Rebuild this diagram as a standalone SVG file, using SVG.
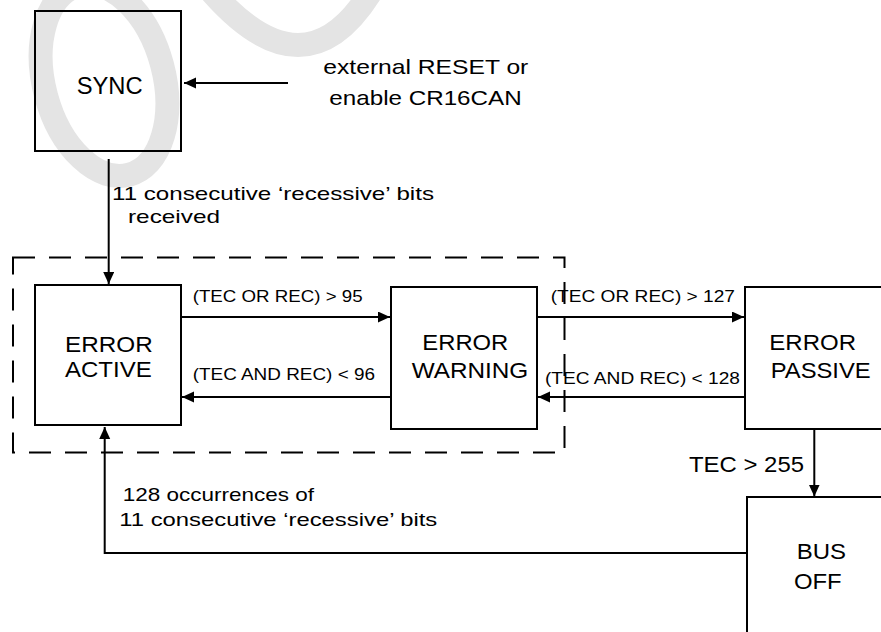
<svg xmlns="http://www.w3.org/2000/svg" width="881" height="632" viewBox="0 0 881 632">
<style>
.box{fill:none;stroke:#000;stroke-width:2}
.ln{fill:none;stroke:#000;stroke-width:2}
.arr{marker-end:url(#ah)}
.t{font-family:"Liberation Sans",Arial,Helvetica,sans-serif;fill:#000}
.n{font-size:22px}
.e{font-size:16.5px}
.l{font-size:19px}
.wm{fill:none;stroke:#e4e4e4;stroke-width:24}
</style>
<defs>
<marker id="ah" markerUnits="userSpaceOnUse" markerWidth="13" markerHeight="12" refX="12" refY="5.5" orient="auto">
<path d="M0,0 L12,5.5 L0,11 Z" fill="#000"/>
</marker>
</defs>
<rect width="881" height="632" fill="#fff"/>
<g id="watermark">
<ellipse class="wm" cx="104" cy="80" rx="60" ry="98" transform="rotate(-15 104 80)"/>
<path class="wm" d="M210,-10 Q305,100 372,-10"/>
</g>
<g id="frame">
<rect x="13" y="257.5" width="551.5" height="195" fill="none" stroke="#000" stroke-width="2" stroke-dasharray="22 14"/>
</g>
<g id="sync">
<rect class="box" x="35" y="11" width="146" height="140"/>
<text class="t n" x="76.7" y="94" textLength="66" lengthAdjust="spacingAndGlyphs" style="font-size:23px">SYNC</text>
</g>
<g id="error-active">
<rect class="box" x="35" y="285" width="146" height="140"/>
<text class="t n" x="65" y="351.7" textLength="87.7" lengthAdjust="spacingAndGlyphs">ERROR</text>
<text class="t n" x="65" y="377" textLength="86.7" lengthAdjust="spacingAndGlyphs">ACTIVE</text>
</g>
<g id="error-warning">
<rect class="box" x="391" y="287" width="146" height="142"/>
<text class="t n" x="422.3" y="350" textLength="86" lengthAdjust="spacingAndGlyphs">ERROR</text>
<text class="t n" x="411.7" y="377.7" textLength="116.6" lengthAdjust="spacingAndGlyphs">WARNING</text>
</g>
<g id="error-passive">
<rect class="box" x="745" y="287" width="150" height="142"/>
<text class="t n" x="769.3" y="350" textLength="86.7" lengthAdjust="spacingAndGlyphs">ERROR</text>
<text class="t n" x="770.7" y="377.7" textLength="100" lengthAdjust="spacingAndGlyphs">PASSIVE</text>
</g>
<g id="bus-off">
<rect class="box" x="747" y="497" width="150" height="150"/>
<text class="t n" x="796.7" y="559.3" textLength="49.3" lengthAdjust="spacingAndGlyphs">BUS</text>
<text class="t n" x="794" y="589.3" textLength="47.7" lengthAdjust="spacingAndGlyphs">OFF</text>
</g>
<g id="connectors">
<line class="ln arr" x1="288" y1="83" x2="184" y2="83"/>
<line class="ln arr" x1="108.7" y1="159" x2="108.7" y2="284"/>
<line class="ln arr" x1="181" y1="317" x2="390" y2="317"/>
<line class="ln arr" x1="392" y1="397" x2="182" y2="397"/>
<line class="ln arr" x1="537" y1="317" x2="744" y2="317"/>
<line class="ln arr" x1="746" y1="397" x2="538" y2="397"/>
<line class="ln arr" x1="814.3" y1="429" x2="814.3" y2="496.5"/>
<polyline class="ln arr" points="747,553 104.7,553 104.7,427"/>
</g>
<g id="labels">
<text class="t" x="323.3" y="74" textLength="205" lengthAdjust="spacingAndGlyphs" style="font-size:21px">external RESET or</text>
<text class="t" x="329.3" y="105.3" textLength="192.4" lengthAdjust="spacingAndGlyphs" style="font-size:21px">enable CR16CAN</text>
<text class="t l" x="112" y="200" textLength="322" lengthAdjust="spacingAndGlyphs">11 consecutive ‘recessive’ bits</text>
<text class="t l" x="128" y="222.7" textLength="92" lengthAdjust="spacingAndGlyphs">received</text>
<text class="t e" x="192.7" y="302" textLength="170" lengthAdjust="spacingAndGlyphs">(TEC OR REC) &gt; 95</text>
<text class="t e" x="192.7" y="380" textLength="182.3" lengthAdjust="spacingAndGlyphs">(TEC AND REC) &lt; 96</text>
<text class="t e" x="550.7" y="302" textLength="184.3" lengthAdjust="spacingAndGlyphs">(TEC OR REC) &gt; 127</text>
<text class="t e" x="545" y="384" textLength="195" lengthAdjust="spacingAndGlyphs">(TEC AND REC) &lt; 128</text>
<text class="t" x="689" y="471.7" textLength="115" lengthAdjust="spacingAndGlyphs" style="font-size:21.5px">TEC &gt; 255</text>
<text class="t l" x="122.7" y="500.7" textLength="191.3" lengthAdjust="spacingAndGlyphs">128 occurrences of</text>
<text class="t l" x="119.3" y="526" textLength="318" lengthAdjust="spacingAndGlyphs">11 consecutive ‘recessive’ bits</text>
</g>
</svg>
